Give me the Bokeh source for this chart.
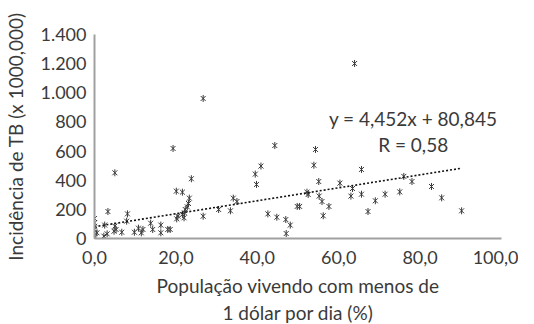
import math
from bokeh.plotting import figure
from bokeh.models import FixedTicker, Range1d, Label, ColumnDataSource
from bokeh.embed import file_html
from bokeh.resources import INLINE

# ---- data ----
poverty_pct = [
    63.9, 26.7, 19.3, 5.0, 23.8, 44.3, 54.3, 53.9, 55.1, 40.9, 39.5, 39.8,
    65.6, 60.3, 63.4, 76.0, 78.0, 75.0, 71.4, 69.0, 65.6, 63.0, 67.2, 82.8,
    85.3, 90.2, 52.2, 52.5, 55.2, 55.9, 57.6, 56.2, 49.8, 50.4, 42.6, 44.8,
    47.0, 48.1, 47.1, 34.1, 35.0, 30.5, 33.4, 26.7, 23.3, 23.1, 20.1, 21.6,
    22.3, 22.1, 22.8, 20.5, 20.2, 21.6, 22.0, 8.1, 7.9, 3.3, 2.5, 5.0,
    4.8, 5.3, 6.7, 3.1, 2.3, 9.8, 10.8, 11.5, 11.9, 13.8, 14.3, 16.3,
    16.3, 18.0, 18.6, 0.0, 0.0, 0.0, 0.0, 0.0, 0.0, 0.0, 0.6,
]
tb_incidence = [
    1201, 961, 618, 451, 410, 638, 611, 503, 391, 497, 442, 371,
    474, 380, 343, 426, 391, 320, 304, 259, 304, 291, 185, 357,
    279, 190, 318, 302, 291, 254, 220, 156, 220, 220, 169, 146,
    130, 92, 34, 277, 254, 199, 190, 153, 277, 240, 325, 318,
    199, 176, 217, 153, 135, 165, 142, 169, 119, 185, 92, 85,
    50, 62, 43, 32, 16, 43, 71, 39, 62, 105, 62, 92,
    39, 62, 62, 137, 107, 84, 62, 39, 16, 5, 39,
]
trend_slope = 4.452
trend_intercept = 80.845
equation_text = "y = 4,452x + 80,845"
r_text = "R = 0,58"

x_ticks = [0, 20, 40, 60, 80, 100]
x_tick_labels = ["0,0", "20,0", "40,0", "60,0", "80,0", "100,0"]
y_ticks = [0, 200, 400, 600, 800, 1000, 1200, 1400]
y_tick_labels = ["0", "200", "400", "600", "800", "1.000", "1.200", "1.400"]

x_title = "População vivendo com menos de\n1 dólar por dia (%)"
y_title = "Incidência de TB (x 1000,000)"

FONT = "Lato"
TXT = "#3a3a3a"
AXIS = "#a0a0a0"

p = figure(frame_width=407, frame_height=204, output_backend="svg", toolbar_location=None,
           x_range=Range1d(0, 100), y_range=Range1d(0, 1400),
           min_border_left=94, min_border_right=17, min_border_top=34,
           min_border_bottom=70)
p.outline_line_color = None
p.xgrid.visible = False
p.ygrid.visible = False
p.background_fill_color = "white"
p.border_fill_color = "white"

for ax, ticks, labels in ((p.xaxis[0], x_ticks, x_tick_labels),
                          (p.yaxis[0], y_ticks, y_tick_labels)):
    ax.ticker = FixedTicker(ticks=ticks)
    ax.major_label_overrides = {t: l for t, l in zip(ticks, labels)}
    ax.major_tick_line_color = None
    ax.minor_tick_line_color = None
    ax.major_tick_out = 0
    ax.major_tick_in = 0
    ax.axis_line_color = AXIS
    ax.axis_line_width = 2
    ax.major_label_text_font = FONT
    ax.major_label_text_font_size = "18px"
    ax.major_label_text_color = TXT
    ax.axis_label_text_font = FONT
    ax.axis_label_text_font_size = "19px"
    ax.axis_label_text_font_style = "normal"
    ax.axis_label_text_color = TXT

p.xaxis.axis_label = x_title
p.yaxis.axis_label = y_title
p.xaxis.major_label_standoff = 12
p.yaxis.major_label_standoff = 8
p.xaxis.axis_label_standoff = 7
p.yaxis.axis_label_standoff = 10

src = ColumnDataSource(dict(x=poverty_pct, y=tb_incidence))
p.scatter("x", "y", source=src, marker="x", size=7, line_color="#3a3a3a", line_width=1.0)
p.scatter("x", "y", source=src, marker="dash", angle=math.pi / 2, size=7,
          line_color="#3a3a3a", line_width=1.0)

x0, x1 = min(poverty_pct), max(poverty_pct)
p.line([x0, x1], [trend_slope * x0 + trend_intercept, trend_slope * x1 + trend_intercept],
       line_color="#111111", line_width=1.6, line_dash="2 2")

p.add_layout(Label(x=78.3, y=824, text=equation_text, text_align="center",
                   text_baseline="middle", text_font=FONT, text_font_size="19px",
                   text_color=TXT))
p.add_layout(Label(x=78.3, y=645, text=r_text, text_align="center",
                   text_baseline="middle", text_font=FONT, text_font_size="19px",
                   text_color=TXT))

open("out.html", "w").write(file_html(p, INLINE))
